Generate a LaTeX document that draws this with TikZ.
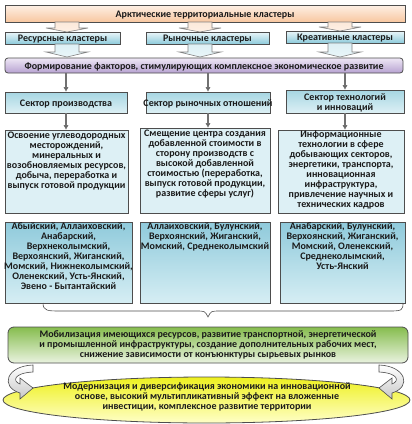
\documentclass[tikz,border=0pt]{standalone}
\usepackage{fontspec}
\setmainfont{Carlito}
\usetikzlibrary{fit,arrows.meta,shapes.geometric}
\definecolor{txt}{HTML}{1A1A1A}
\definecolor{bord}{HTML}{4D4D4D}
\definecolor{peachT}{HTML}{FDF0E6}
\definecolor{peachB}{HTML}{F8C7A0}
\definecolor{clT}{HTML}{EAF6F9}
\definecolor{clB}{HTML}{8ECBDB}
\definecolor{lavT}{HTML}{EEE7F5}
\definecolor{lavB}{HTML}{B7A2D1}
\definecolor{secT}{HTML}{A6D6E2}
\definecolor{secB}{HTML}{DDF0F5}
\definecolor{descF}{HTML}{DDF0F5}
\definecolor{listT}{HTML}{8FCADB}
\definecolor{listB}{HTML}{D6EEF4}
\definecolor{grT}{HTML}{86BD4E}
\definecolor{grB}{HTML}{EAF3E0}
\definecolor{yeT}{HTML}{EEF01E}
\definecolor{yeB}{HTML}{FFFFC8}
\definecolor{arrG}{HTML}{C8C8C8}
\newcommand\blkarrow[5]{%
  \draw[#5] ({#1-12},#2) -- ({#1+12},#2) -- ({#1+12},#3) -- ({#1+21},#3) -- (#1,#4)
    -- ({#1-21},#3) -- ({#1-12},#3) -- cycle;}
% box with centred text: style, name, corner1, corner2, text
\newcommand\cbox[5]{%
  \node[#1, fit={#3 #4}] (#2) {};
  \node[inner sep=0pt, yshift=-1.5pt] (#2t) at (#2.center) {#5};}
\begin{document}
\begin{tikzpicture}[x=1pt,y=-1pt,
  every node/.style={font=\fontsize{10}{10}\selectfont\bfseries, text=txt, align=center},
  bx/.style={draw=bord, line width=0.8pt, inner sep=0pt},
  topbox/.style={bx, top color=peachT, bottom color=peachB},
  clbox/.style={bx, top color=clT, bottom color=clB},
  formbox/.style={bx, rounded corners=3pt, top color=lavT, bottom color=lavB},
  secbox/.style={bx, top color=secT, bottom color=secB},
  descbox/.style={bx, fill=descF},
  listbox/.style={bx, top color=listT, bottom color=listB},
  greenbox/.style={bx, rounded corners=6pt, top color=grT, bottom color=grB},
  ellbox/.style={bx, ellipse, top color=yeT, bottom color=yeB, minimum width=407pt, minimum height=46pt},
  txtin/.style={inner sep=0pt, anchor=north},
  conn/.style={draw=bord!80, line width=1.2pt, -{Triangle[length=4.5pt,width=4.5pt,fill=black]}},
  peacharrow/.style={draw=bord!70, line width=0.6pt, top color=peachB!40, bottom color=peachT},
  bluearrow/.style={draw=bord!70, line width=0.6pt, top color=secB, bottom color=clT},
  curvarrow/.style={draw=bord, line width=0.6pt, top color=white, bottom color=arrG},
  bracestyle/.style={draw=bord, line width=0.6pt}
]
\useasboundingbox (0,0) rectangle (412,424);

% top
\cbox{topbox}{top}{(5,5)}{(405,22)}{Арктические территориальные кластеры}

% clusters
\cbox{clbox}{cl1}{(5,32)}{(120,44)}{Ресурсные кластеры}
\cbox{clbox}{cl2}{(146,32)}{(269,44)}{Рыночные кластеры}
\cbox{clbox}{cl3}{(286,31)}{(404,43)}{Креативные кластеры}

\blkarrow{67}{22}{28}{32}{peacharrow}
\blkarrow{200}{22}{28}{32}{peacharrow}
\blkarrow{340}{22}{27}{31}{peacharrow}

% formation
\cbox{formbox}{form}{(5,58)}{(403,73)}{Формирование факторов, стимулирующих комплексное экономическое развитие}

\blkarrow{67}{44}{52}{57}{bluearrow}
\blkarrow{200}{44}{52}{57}{bluearrow}
\blkarrow{340}{43}{52}{57}{bluearrow}

% sectors
\cbox{secbox}{sec1}{(5,92)}{(127,113)}{Сектор производства}
\cbox{secbox}{sec2}{(146,92)}{(270,113)}{Сектор рыночных отношений}
\cbox{secbox}{sec3}{(286,90)}{(404,113)}{Сектор технологий\\и инноваций}

\draw[conn] (form.south -| sec1.north) -- (sec1.north);
\draw[conn] (form.south -| sec2.north) -- (sec2.north);
\draw[conn] (form.south -| sec3.north) -- (sec3.north);

% descriptions
\node[descbox, fit={(5,130) (128,213)}] (d1) {};
\node[descbox, fit={(140,128) (270,213)}] (d2) {};
\node[descbox, fit={(278,130) (404,213)}] (d3) {};
\node[txtin, yshift=-2pt] (d1t) at (d1.north) {Освоение углеводородных\\месторождений,\\минеральных и\\возобновляемых ресурсов,\\добыча, переработка и\\выпуск готовой продукции};
\node[txtin, yshift=-2pt] (d2t) at (d2.north) {Смещение центра создания\\добавленной стоимости в\\сторону производств с\\высокой добавленной\\стоимостью (переработка,\\выпуск готовой продукции,\\развитие сферы услуг)};
\node[txtin, yshift=-0.5pt] (d3t) at (d3.north) {Информационные\\технологии в сфере\\добывающих секторов,\\энергетики, транспорта,\\инновационная\\инфраструктура,\\привлечение научных и\\технических кадров};

\draw[conn] (sec1.south) -- (sec1.south |- d1.north);
\draw[conn] (sec2.south) -- (sec2.south |- d2.north);
\draw[conn] (sec3.south) -- (sec3.south |- d3.north);

% lists
\node[listbox, fit={(5,222) (132,303)}] (l1) {};
\node[listbox, fit={(140,222) (270,303)}] (l2) {};
\node[listbox, fit={(280,222) (405,303)}] (l3) {};
\node[txtin, yshift=-1pt] (l1t) at (l1.north) {Абыйский, Аллаиховский,\\Анабарский,\\Верхнеколымский,\\Верхоянский, Жиганский,\\Момский, Нижнеколымский,\\Оленекский, Усть-Янский,\\Эвено - Бытантайский};
\node[txtin, yshift=-1pt] (l2t) at (l2.north) {Аллаиховский, Булунский,\\Верхоянский, Жиганский,\\Момский, Среднеколымский};
\node[txtin, yshift=-1pt] (l3t) at (l3.north) {Анабарский, Булунский,\\Верхоянский, Жиганский,\\Момский, Оленекский,\\Среднеколымский,\\Усть-Янский};

% brace
\draw[bracestyle] (43,303) .. controls (43,311) and (48,311) .. (60,311) -- (196,311)
  .. controls (205,311) .. (208,317) .. controls (211,311) .. (220,311) -- (390,311)
  .. controls (402,311) and (403,310) .. (403,303);

% green
\node[greenbox, fit={(8,327) (408,363)}] (green) {};
\node[inner sep=0pt, yshift=-1.5pt] (greent) at (208,343.5) {Мобилизация имеющихся ресурсов, развитие транспортной, энергетической\\и промышленной инфраструктуры, создание дополнительных рабочих мест,\\снижение зависимости от конъюнктуры сырьевых рынков};

% ellipse
\node[ellbox] (ell) at (206.5,400) {};
\node[inner sep=0pt, yshift=-1.5pt] (ellt) at (207,395) {Модернизация и диверсификация экономики на инновационной\\основе, высокий мультипликативный эффект на вложенные\\инвестиции, комплексное развитие территории};

% curved arrows
\draw[curvarrow] (33,365) .. controls (6,366) and (0,387) .. (20,393) -- (20,399) -- (33,388)
  -- (20,378) -- (20,384) .. controls (12,381) and (14,373) .. (33,372) -- cycle;
\draw[curvarrow] (379,365) .. controls (406,366) and (412,387) .. (392,393) -- (392,399) -- (379,388)
  -- (392,378) -- (392,384) .. controls (400,381) and (398,373) .. (379,372) -- cycle;
\end{tikzpicture}
\end{document}
